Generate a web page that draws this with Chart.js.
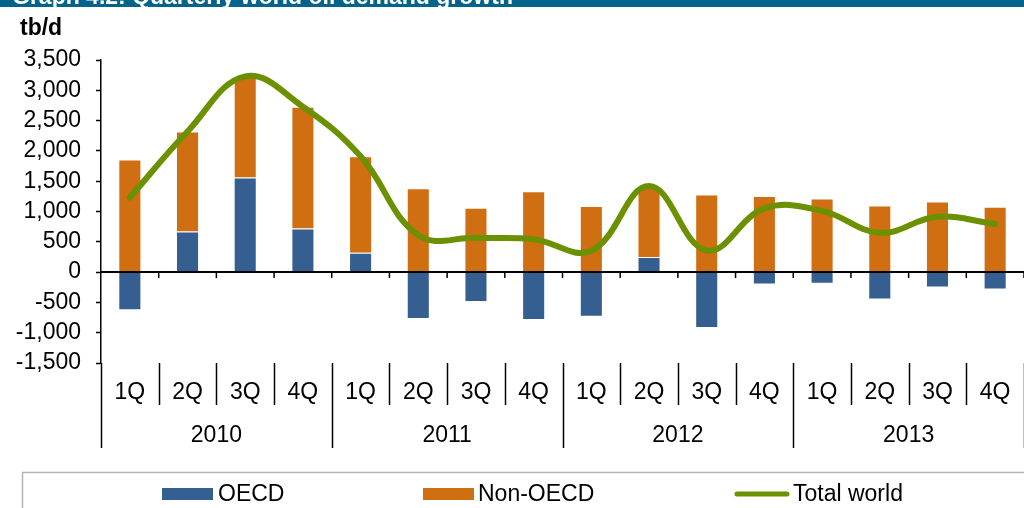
<!DOCTYPE html>
<html>
<head>
<meta charset="utf-8">
<script src="https://cdn.jsdelivr.net/npm/chart.js@4.4.1/dist/chart.umd.min.js"></script>
<style>
  html, body { margin: 0; padding: 0; background: #fff; }
  .wrap { position: relative; width: 1024px; height: 508px; }
</style>
</head>
<body>
<div class="wrap"><canvas id="demand"></canvas></div>
<script>
// Quarterly world oil demand growth, tb/d
const quarters = ['1Q', '2Q', '3Q', '4Q'];
const years = ['2010', '2011', '2012', '2013'];
const oecd = [-630, 670, 1560, 720, 320, -775, -495, -792, -737, 250, -924, -203, -193, -451, -253, -286];
const nonOecd = [1860, 1650, 1670, 2010, 1590, 1385, 1060, 1335, 1090, 1170, 1280, 1255, 1215, 1100, 1165, 1080];
const totalWorld = [1230, 2320, 3230, 2730, 1910, 610, 565, 543, 353, 1420, 356, 1052, 1010, 649, 912, 794];
const yTicks = { min: -1500, max: 3500, step: 500 };
const title = 'Graph 4.2: Quarterly world oil demand growth';
const unit = 'tb/d';

const categories = years.flatMap(y => quarters.map(q => q + ' ' + y));

const FONT = "'Liberation Sans', Arial, sans-serif";
const BLUE = '#365F91';
const ORANGE = '#D06F12';
const GREEN = '#6B9100';

// draws the bits Excel puts round the plot: zero line, category labels, legend, title bar
const frame = {
  id: 'frame',
  afterDatasetsDraw(chart) {
    const { ctx, chartArea: a, scales: { x, y } } = chart;
    const y0 = y.getPixelForValue(0);
    const step = x.getPixelForValue(1) - x.getPixelForValue(0);
    const edge = i => x.getPixelForValue(i) - step / 2;
    const line = (x1, y1, x2, y2) => { ctx.beginPath(); ctx.moveTo(x1, y1); ctx.lineTo(x2, y2); ctx.stroke(); };

    ctx.save();
    ctx.strokeStyle = '#000';
    ctx.lineWidth = 2;
    line(a.left, y0, a.right, y0);
    ctx.lineWidth = 1.5;
    for (let i = 1; i <= categories.length; i++) line(edge(i), y0, edge(i), y0 + 6);

    // multi-level category axis below the plot
    for (let i = 0; i <= categories.length; i++) {
      const bx = Math.round(edge(i)) + 0.5;
      line(bx, a.bottom, bx, i % 4 === 0 ? 448 : 405);
    }
    ctx.fillStyle = '#000';
    ctx.font = '23px ' + FONT;
    ctx.textAlign = 'center';
    ctx.textBaseline = 'alphabetic';
    categories.forEach((c, i) => ctx.fillText(quarters[i % 4], x.getPixelForValue(i), 399));
    years.forEach((yr, j) => {
      const cx = (x.getPixelForValue(j * 4) + x.getPixelForValue(j * 4 + 3)) / 2;
      ctx.fillText(yr, cx, 441.5);
    });
    ctx.restore();
  },
  afterDraw(chart) {
    const { ctx, width } = chart;
    ctx.save();
    // title bar, cut off at the top
    ctx.fillStyle = '#02638B';
    ctx.fillRect(0, 0, width, 7);
    ctx.beginPath(); ctx.rect(0, 0, width, 7); ctx.clip();
    ctx.fillStyle = '#fff';
    ctx.font = 'bold 23px ' + FONT;
    ctx.textBaseline = 'alphabetic';
    ctx.fillText(title, 12, 4);
    ctx.restore();

    ctx.save();
    ctx.fillStyle = '#000';
    ctx.font = 'bold 23px ' + FONT;
    ctx.fillText(unit, 20, 35);

    // legend
    ctx.strokeStyle = '#B4B4B4';
    ctx.lineWidth = 1.5;
    ctx.strokeRect(22.5, 472.5, 1100, 100);
    ctx.font = '23px ' + FONT;
    ctx.fillStyle = BLUE;
    ctx.fillRect(162, 488, 51, 12);
    ctx.fillStyle = ORANGE;
    ctx.fillRect(423, 488, 51, 12);
    ctx.strokeStyle = GREEN;
    ctx.lineWidth = 5;
    ctx.lineCap = 'round';
    ctx.beginPath(); ctx.moveTo(737, 494); ctx.lineTo(787, 494); ctx.stroke();
    ctx.fillStyle = '#000';
    ctx.fillText('OECD', 218, 500.5);
    ctx.fillText('Non-OECD', 478, 500.5);
    ctx.fillText('Total world', 793, 500.5);
    ctx.restore();
  }
};

new Chart(document.getElementById('demand'), {
  type: 'bar',
  data: {
    labels: categories,
    datasets: [
      {
        type: 'line',
        label: 'Total world',
        data: totalWorld,
        borderColor: GREEN,
        borderWidth: 6,
        borderCapStyle: 'round',
        tension: 0.4,
        pointRadius: 0,
        stack: 'total',
        order: 1
      },
      {
        label: 'OECD',
        data: oecd,
        backgroundColor: BLUE,
        borderColor: 'rgba(255,255,255,0.35)',
        borderWidth: 1,
        stack: 'regions',
        order: 2
      },
      {
        label: 'Non-OECD',
        data: nonOecd,
        backgroundColor: ORANGE,
        borderColor: 'rgba(255,255,255,0.35)',
        borderWidth: 1,
        stack: 'regions',
        order: 3
      }
    ]
  },
  options: {
    responsive: true,
    maintainAspectRatio: false,
    animation: false,
    layout: { padding: { top: 60, bottom: 145, left: 0, right: 0 } },
    datasets: { bar: { categoryPercentage: 1, barPercentage: 0.4 } },
    plugins: { legend: { display: false }, tooltip: { enabled: false } },
    scales: {
      x: { display: false, stacked: true },
      y: {
        stacked: true,
        min: yTicks.min,
        max: yTicks.max,
        afterFit: s => { s.width = 101; },
        border: { display: true, color: '#000', width: 1.5 },
        grid: { drawOnChartArea: false, drawTicks: true, tickLength: 5, tickColor: '#000', tickWidth: 1.5 },
        ticks: {
          stepSize: yTicks.step,
          autoSkip: false,
          padding: 15,
          color: '#000',
          font: { family: FONT, size: 23 },
          callback: v => v.toLocaleString('en-US')
        }
      }
    }
  },
  plugins: [frame]
});
</script>
</body>
</html>
